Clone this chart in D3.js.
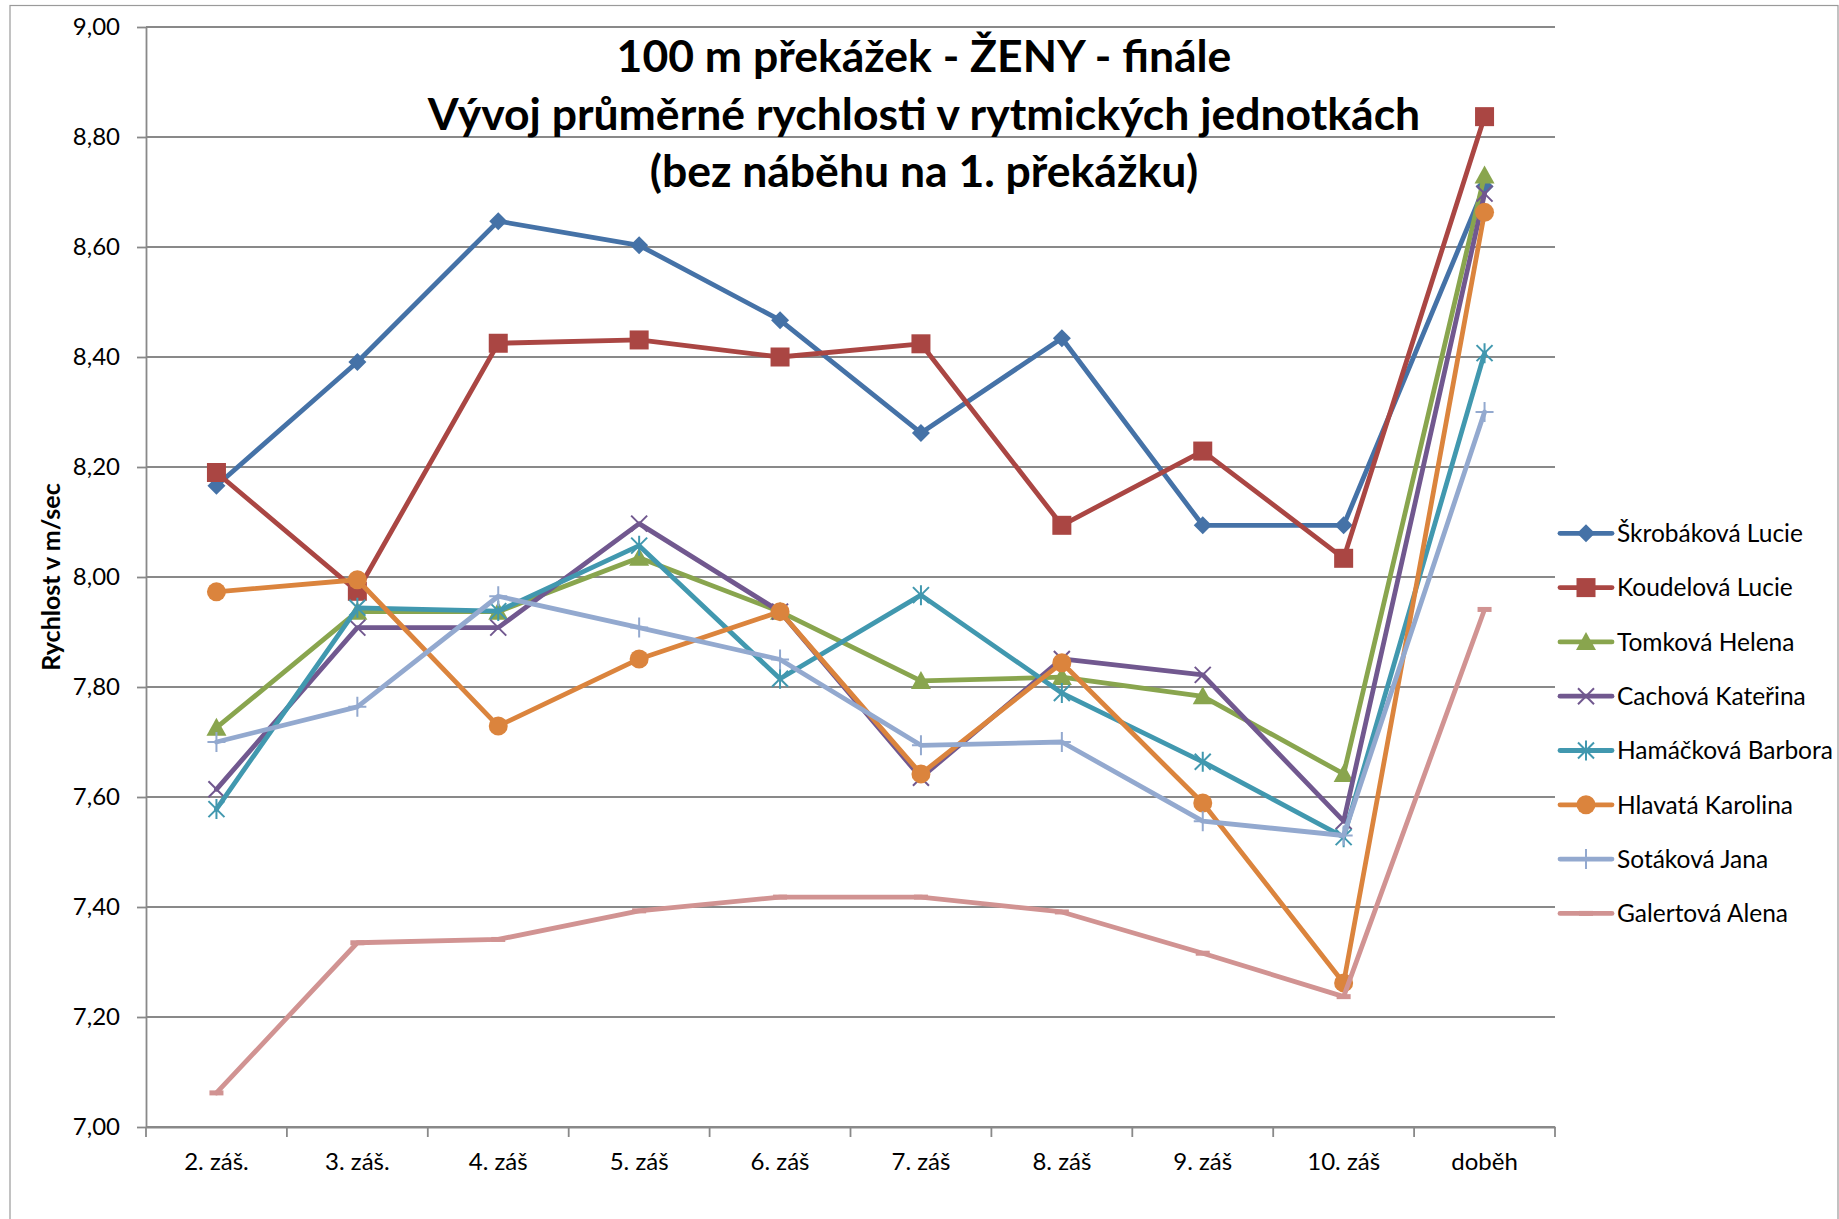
<!DOCTYPE html>
<html>
<head>
<meta charset="utf-8">
<script src="https://cdn.jsdelivr.net/npm/d3@7"></script>
<style>
  html, body { margin: 0; padding: 0; background: #fff; }
  svg { display: block; }
</style>
</head>
<body>
<svg id="chart" width="1839" height="1219"></svg>
<script>
// ---------- DATA ----------
const categories = ["2. záš.", "3. záš.", "4. záš", "5. záš", "6. záš", "7. záš", "8. záš", "9. záš", "10. záš", "doběh"];
const seriesNames = ["Škrobáková Lucie", "Koudelová Lucie", "Tomková Helena", "Cachová Kateřina",
                     "Hamáčková Barbora", "Hlavatá Karolina", "Sotáková Jana", "Galertová Alena"];
const skrobakova = [8.166, 8.391, 8.647, 8.603, 8.467, 8.262, 8.434, 8.094, 8.094, 8.710];
const koudelova  = [8.190, 7.974, 8.425, 8.431, 8.400, 8.424, 8.094, 8.229, 8.034, 8.837];
const tomkova    = [7.726, 7.937, 7.937, 8.035, 7.937, 7.811, 7.818, 7.783, 7.642, 8.730];
const cachova    = [7.614, 7.908, 7.908, 8.097, 7.937, 7.635, 7.851, 7.822, 7.556, 8.697];
const hamackova  = [7.578, 7.944, 7.938, 8.057, 7.815, 7.967, 7.789, 7.664, 7.527, 8.407];
const hlavata    = [7.973, 7.995, 7.729, 7.851, 7.937, 7.642, 7.844, 7.589, 7.262, 8.663];
const sotakova   = [7.700, 7.764, 7.965, 7.908, 7.850, 7.694, 7.700, 7.556, 7.530, 8.300];
const galertova  = [7.062, 7.335, 7.341, 7.393, 7.418, 7.418, 7.391, 7.316, 7.237, 7.941];
const yTickValues = [7.0, 7.2, 7.4, 7.6, 7.8, 8.0, 8.2, 8.4, 8.6, 8.8, 9.0];
const yTickLabels = ["7,00", "7,20", "7,40", "7,60", "7,80", "8,00", "8,20", "8,40", "8,60", "8,80", "9,00"];
const titleLines = ["100 m překážek - ŽENY - finále",
                    "Vývoj průměrné rychlosti v rytmických jednotkách",
                    "(bez náběhu na 1. překážku)"];
const yAxisTitle = "Rychlost v m/sec";

// ---------- STYLE ----------
const seriesValues = [skrobakova, koudelova, tomkova, cachova, hamackova, hlavata, sotakova, galertova];
const colors = ["#4572A7", "#AA4643", "#89A54E", "#71588F", "#4198AF", "#DB843D", "#93A9CF", "#D19392"];
const markers = ["diamond", "square", "triangle", "x", "star", "circle", "plus", "dash"];

const plot = { left: 146, right: 1555, top: 27, bottom: 1127 };
const gridColor = "#898989";
const FONT = "Lato, 'Open Sans', sans-serif";

const svg = d3.select("#chart");

// chart border
svg.append("rect").attr("x", 10).attr("y", 5.5).attr("width", 1828).attr("height", 1240)
  .attr("fill", "#fff").attr("stroke", "#9a9a9a").attr("stroke-width", 1.2);

const x = d3.scaleBand().domain(categories).range([plot.left, plot.right]).paddingInner(0).paddingOuter(0);
const y = d3.scaleLinear().domain([7, 9]).range([plot.bottom, plot.top]);
const cx = c => x(c) + x.bandwidth() / 2;

// gridlines
svg.append("g").selectAll("line").data(yTickValues).join("line")
  .attr("x1", plot.left).attr("x2", plot.right)
  .attr("y1", d => y(d)).attr("y2", d => y(d))
  .attr("stroke", gridColor).attr("stroke-width", 1.8);

// Y axis
const yAxis = svg.append("g").attr("transform", `translate(${plot.left},0)`)
  .call(d3.axisLeft(y).tickValues(yTickValues)
    .tickFormat((d, i) => yTickLabels[i]).tickSize(9).tickSizeOuter(0).tickPadding(17));
yAxis.select(".domain").attr("stroke", gridColor).attr("stroke-width", 1.8);
yAxis.selectAll(".tick line").attr("stroke", gridColor).attr("stroke-width", 1.8);
yAxis.selectAll("text").attr("font-family", FONT).attr("font-size", 24).attr("fill", "#000");

// X axis
const xAxis = svg.append("g").attr("transform", `translate(0,${plot.bottom})`)
  .call(d3.axisBottom(x).tickSize(0).tickSizeOuter(0).tickPadding(26));
xAxis.select(".domain").attr("stroke", gridColor).attr("stroke-width", 1.8);
xAxis.selectAll("text").attr("font-family", FONT).attr("font-size", 24).attr("fill", "#000");
const bounds = categories.map(c => x(c)).concat([x(categories[categories.length - 1]) + x.bandwidth()]);
xAxis.append("g").selectAll("line").data(bounds).join("line")
  .attr("x1", d => d).attr("x2", d => d).attr("y1", 0).attr("y2", 10)
  .attr("stroke", gridColor).attr("stroke-width", 1.8);

// axis title
svg.append("text")
  .attr("transform", `translate(50,${(plot.top + plot.bottom) / 2}) rotate(-90)`)
  .attr("text-anchor", "middle").attr("dominant-baseline", "central")
  .attr("font-family", FONT).attr("font-weight", 700).attr("font-size", 25)
  .text(yAxisTitle);

// title
const titleBaselines = [72, 129.5, 186.5];
svg.append("g").selectAll("text").data(titleLines).join("text")
  .attr("x", 924).attr("y", (d, i) => titleBaselines[i])
  .attr("text-anchor", "middle")
  .attr("font-family", FONT).attr("font-weight", 700).attr("font-size", 44.5)
  .text(d => d);

// marker drawing
function drawMarker(g, type, color) {
  const sw = 2;
  switch (type) {
    case "diamond":
      g.append("path").attr("d", "M0,-9L9,0L0,9L-9,0Z").attr("fill", color); break;
    case "square":
      g.append("rect").attr("x", -9.5).attr("y", -9.5).attr("width", 19).attr("height", 19).attr("fill", color); break;
    case "triangle":
      g.append("path").attr("d", "M0,-10L10,8L-10,8Z").attr("fill", color); break;
    case "circle":
      g.append("circle").attr("r", 9.5).attr("fill", color); break;
    case "x":
      g.append("path").attr("d", "M-8,-8L8,8M-8,8L8,-8").attr("stroke", color).attr("stroke-width", sw).attr("fill", "none"); break;
    case "star":
      g.append("path").attr("d", "M-8,-8L8,8M-8,8L8,-8M0,-10L0,10").attr("stroke", color).attr("stroke-width", sw).attr("fill", "none"); break;
    case "plus":
      g.append("path").attr("d", "M-9,0L9,0M0,-10L0,10").attr("stroke", color).attr("stroke-width", sw).attr("fill", "none"); break;
    case "dash":
      g.append("rect").attr("x", -7).attr("y", -2.5).attr("width", 14).attr("height", 5).attr("fill", color); break;
  }
}

// series
const line = d3.line().x((d, i) => cx(categories[i])).y(d => y(d));
seriesValues.forEach((vals, s) => {
  const g = svg.append("g");
  g.append("path").datum(vals).attr("d", line)
    .attr("fill", "none").attr("stroke", colors[s]).attr("stroke-width", 4.8)
    .attr("stroke-linejoin", "round").attr("stroke-linecap", "round");
  vals.forEach((v, i) => {
    const mg = g.append("g").attr("transform", `translate(${cx(categories[i])},${y(v)})`);
    drawMarker(mg, markers[s], colors[s]);
  });
});

// legend
const legendY0 = 533.3, legendStep = 54.3;
seriesNames.forEach((name, s) => {
  const ly = legendY0 + s * legendStep;
  const g = svg.append("g");
  g.append("line").attr("x1", 1560).attr("x2", 1612).attr("y1", ly).attr("y2", ly)
    .attr("stroke", colors[s]).attr("stroke-width", 4.8).attr("stroke-linecap", "round");
  const mg = g.append("g").attr("transform", `translate(1586,${ly})`);
  drawMarker(mg, markers[s], colors[s]);
  g.append("text").attr("x", 1617).attr("y", ly).attr("dy", "0.36em")
    .attr("font-family", FONT).attr("font-size", 24.5).attr("fill", "#000").text(name);
});
</script>
</body>
</html>
